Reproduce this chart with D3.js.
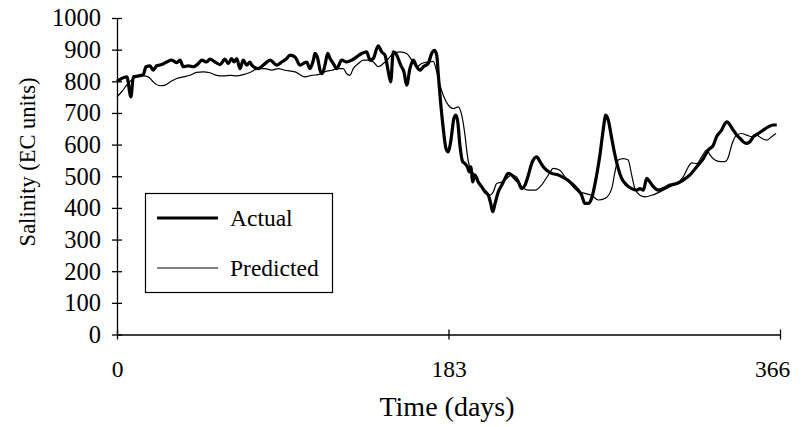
<!DOCTYPE html>
<html>
<head>
<meta charset="utf-8">
<script src="https://cdn.jsdelivr.net/npm/d3@7"></script>
<style>
  html, body { margin: 0; padding: 0; background: #fff; }
  svg { display: block; }
  text { font-family: "Liberation Serif", "Times New Roman", serif; fill: #000; }
</style>
</head>
<body>
<svg id="chart" width="801" height="427"></svg>
<script>
// ---- Data ----
const xTickValues = [0, 183, 366];
const yTickValues = [0, 100, 200, 300, 400, 500, 600, 700, 800, 900, 1000];
const seriesNames = ["Actual", "Predicted"];

const actualDays = [0, 2.6, 5.4, 7.7, 9.0, 11.8, 14.5, 16.0, 18.2, 20.0, 21.9, 24.7, 27.4, 30.2, 33.0, 34.8, 36.6, 39.4, 42.1, 44.9, 46.8, 49.5, 51.3, 54.1, 56.9, 59.6, 61.4, 63.3, 64.6, 66.1, 67.9, 69.7, 71.6, 73.4, 74.4, 78.0, 81.7, 84.5, 88.2, 90.9, 93.7, 95.5, 98.3, 101.0, 102.8, 104.7, 106.5, 108.4, 109.3, 110.8, 112.1, 113.3, 114.8, 116.3, 117.6, 119.4, 121.3, 124.0, 126.8, 129.6, 132.3, 135.1, 137.8, 139.7, 141.5, 143.4, 144.2, 146.1, 147.9, 149.8, 151.1, 152.5, 154.4, 156.6, 158.4, 159.9, 161.7, 163.6, 165.4, 167.3, 169.1, 171.8, 173.7, 175.2, 176.5, 177.4, 178.3, 180.1, 181.6, 182.9, 184.2, 186.0, 187.1, 188.1, 189.3, 190.8, 192.1, 193.4, 194.5, 195.3, 196.4, 197.6, 199.4, 201.3, 203.1, 205.0, 206.3, 207.4, 208.7, 210.5, 212.4, 214.2, 216.0, 217.9, 219.7, 221.5, 223.4, 225.2, 227.1, 228.9, 231.7, 233.5, 235.3, 237.2, 240.0, 243.6, 247.3, 250.1, 253.8, 256.5, 258.3, 260.2, 262.0, 264.8, 266.6, 268.5, 269.8, 271.2, 273.1, 274.9, 276.7, 278.6, 281.4, 284.1, 286.9, 288.7, 290.6, 292.4, 294.2, 296.1, 298.8, 301.6, 305.3, 309.0, 312.6, 316.3, 320.0, 323.7, 326.4, 329.2, 331.0, 333.8, 335.6, 336.9, 338.4, 340.2, 342.1, 343.9, 345.7, 347.6, 349.4, 351.3, 354.0, 356.8, 359.5, 362.3, 364.2];
const actualValues = [800, 809, 814, 751, 814, 817, 821, 846, 849, 835, 849, 853, 861, 867, 859, 867, 846, 849, 846, 856, 867, 861, 870, 861, 853, 870, 856, 872, 861, 872, 840, 867, 851, 861, 851, 840, 856, 867, 851, 861, 872, 883, 877, 851, 856, 861, 840, 867, 888, 872, 835, 824, 851, 888, 872, 856, 840, 867, 861, 867, 877, 888, 893, 867, 872, 904, 912, 893, 883, 830, 798, 893, 883, 851, 830, 788, 840, 867, 846, 835, 846, 856, 888, 898, 883, 819, 756, 651, 588, 577, 609, 683, 693, 672, 598, 546, 540, 530, 514, 530, 482, 504, 482, 467, 451, 440, 414, 388, 414, 451, 472, 493, 509, 504, 493, 482, 461, 472, 504, 540, 561, 546, 530, 519, 509, 504, 493, 482, 461, 440, 414, 414, 430, 504, 567, 651, 693, 677, 620, 567, 525, 493, 472, 461, 456, 461, 456, 493, 482, 467, 456, 461, 472, 477, 488, 504, 530, 556, 583, 598, 625, 646, 667, 672, 662, 646, 630, 620, 609, 604, 609, 625, 635, 646, 656, 662, 662];

const predictedDays = [0, 2.6, 5.4, 8.1, 10.9, 14.5, 17.3, 20.0, 23.7, 26.5, 29.3, 33.0, 36.6, 40.3, 44.0, 47.6, 51.3, 55.0, 58.7, 62.4, 66.1, 69.7, 73.4, 78.0, 81.7, 85.4, 89.0, 92.7, 98.3, 103.8, 107.5, 111.1, 114.8, 118.5, 122.2, 124.9, 126.8, 128.6, 130.4, 133.2, 136.0, 138.7, 141.5, 144.2, 147.0, 148.9, 152.5, 156.2, 159.9, 162.7, 165.4, 168.2, 171.8, 174.6, 176.5, 178.3, 180.1, 182.9, 185.6, 188.4, 190.3, 192.1, 193.4, 194.9, 197.6, 200.4, 202.2, 204.1, 205.9, 207.7, 209.6, 212.4, 215.1, 217.9, 220.6, 223.4, 227.1, 230.8, 234.4, 238.1, 240.9, 244.5, 247.3, 251.0, 254.7, 258.3, 262.0, 265.7, 269.4, 273.1, 274.9, 276.7, 279.5, 282.2, 284.1, 285.9, 288.7, 291.5, 295.2, 297.9, 301.6, 305.3, 309.0, 312.6, 315.4, 317.3, 320.0, 322.8, 325.5, 327.4, 330.1, 332.9, 335.6, 337.5, 339.3, 342.1, 344.8, 347.6, 350.4, 353.1, 355.9, 358.6, 361.4, 363.8];
const predictedValues = [751, 767, 788, 804, 814, 817, 814, 798, 786, 788, 798, 809, 814, 819, 828, 830, 827, 819, 817, 819, 817, 821, 828, 840, 840, 835, 840, 835, 830, 814, 819, 821, 830, 835, 840, 840, 824, 819, 840, 856, 867, 867, 861, 846, 856, 866, 888, 893, 888, 867, 846, 856, 861, 863, 830, 788, 756, 725, 714, 719, 693, 630, 567, 525, 504, 477, 461, 451, 440, 451, 477, 482, 493, 504, 498, 467, 456, 456, 472, 504, 525, 519, 498, 472, 451, 446, 440, 425, 430, 461, 514, 551, 556, 551, 504, 461, 440, 435, 440, 446, 456, 467, 477, 498, 530, 542, 540, 561, 583, 567, 551, 546, 546, 561, 598, 630, 635, 630, 625, 630, 620, 614, 625, 635];

// ---- Chart ----
const svg = d3.select("#chart");
const x = d3.scaleLinear().domain([0, 366]).range([117, 780]);
const y = d3.scaleLinear().domain([0, 1000]).range([334.5, 18]);

// Y axis
const yAxis = svg.append("g")
  .attr("transform", `translate(${x(0)},0)`)
  .call(d3.axisLeft(y).tickValues(yTickValues).tickSize(5).tickPadding(11).tickSizeOuter(0).tickFormat(d3.format("d")));
yAxis.attr("font-size", null).attr("font-family", null);
yAxis.select(".domain").attr("stroke", "#000").attr("stroke-width", 1.3);
yAxis.selectAll(".tick line").attr("x1", -5).attr("x2", 5).attr("stroke", "#000").attr("stroke-width", 1.3);
yAxis.selectAll(".tick text").style("font-size", "24.5px");

// X axis
const xAxis = svg.append("g")
  .attr("transform", `translate(0,${y(0)})`)
  .call(d3.axisBottom(x).tickValues(xTickValues).tickSize(5).tickSizeOuter(0).tickFormat(d3.format("d")));
xAxis.attr("font-size", null).attr("font-family", null);
xAxis.select(".domain").attr("stroke", "#000").attr("stroke-width", 1.3);
xAxis.selectAll(".tick line").attr("y1", -5).attr("y2", 5).attr("stroke", "#000").attr("stroke-width", 1.3);
xAxis.selectAll(".tick text").style("font-size", "23.5px")
  .attr("y", 42).attr("dy", 0)
  .attr("x", (d, i, n) => i === n.length - 1 ? -8 : 0);

// Axis titles
svg.append("text")
  .attr("transform", `translate(35,162) rotate(-90)`)
  .attr("text-anchor", "middle")
  .style("font-size", "22.5px")
  .text("Salinity (EC units)");

svg.append("text")
  .attr("x", 447)
  .attr("y", 416)
  .attr("text-anchor", "middle")
  .style("font-size", "28px")
  .text("Time (days)");

// Lines
const line = d3.line()
  .x(d => x(d[0]))
  .y(d => y(d[1]))
  .curve(d3.curveMonotoneX);

const actualData = actualDays.map((d, i) => [d, actualValues[i]]);
const predictedData = predictedDays.map((d, i) => [d, predictedValues[i]]);

svg.append("path")
  .datum(predictedData)
  .attr("fill", "none")
  .attr("stroke", "#000")
  .attr("stroke-width", 1.2)
  .attr("stroke-linejoin", "round")
  .attr("d", line);

svg.append("path")
  .datum(actualData)
  .attr("fill", "none")
  .attr("stroke", "#000")
  .attr("stroke-width", 3.2)
  .attr("stroke-linejoin", "round")
  .attr("d", line);

// Legend
const legend = svg.append("g");
legend.append("rect")
  .attr("x", 145.5).attr("y", 193.5)
  .attr("width", 187).attr("height", 99)
  .attr("fill", "#fff").attr("stroke", "#000").attr("stroke-width", 1.2);
const legendWidths = [3.2, 1.2];
const legendY = [218, 268];
seriesNames.forEach((name, i) => {
  legend.append("line")
    .attr("x1", 157).attr("x2", 218)
    .attr("y1", legendY[i]).attr("y2", legendY[i])
    .attr("stroke", "#000").attr("stroke-width", legendWidths[i]);
  legend.append("text")
    .attr("x", 230).attr("y", legendY[i])
    .attr("dy", "0.35em")
    .style("font-size", "23.5px")
    .text(name);
});
</script>
</body>
</html>
